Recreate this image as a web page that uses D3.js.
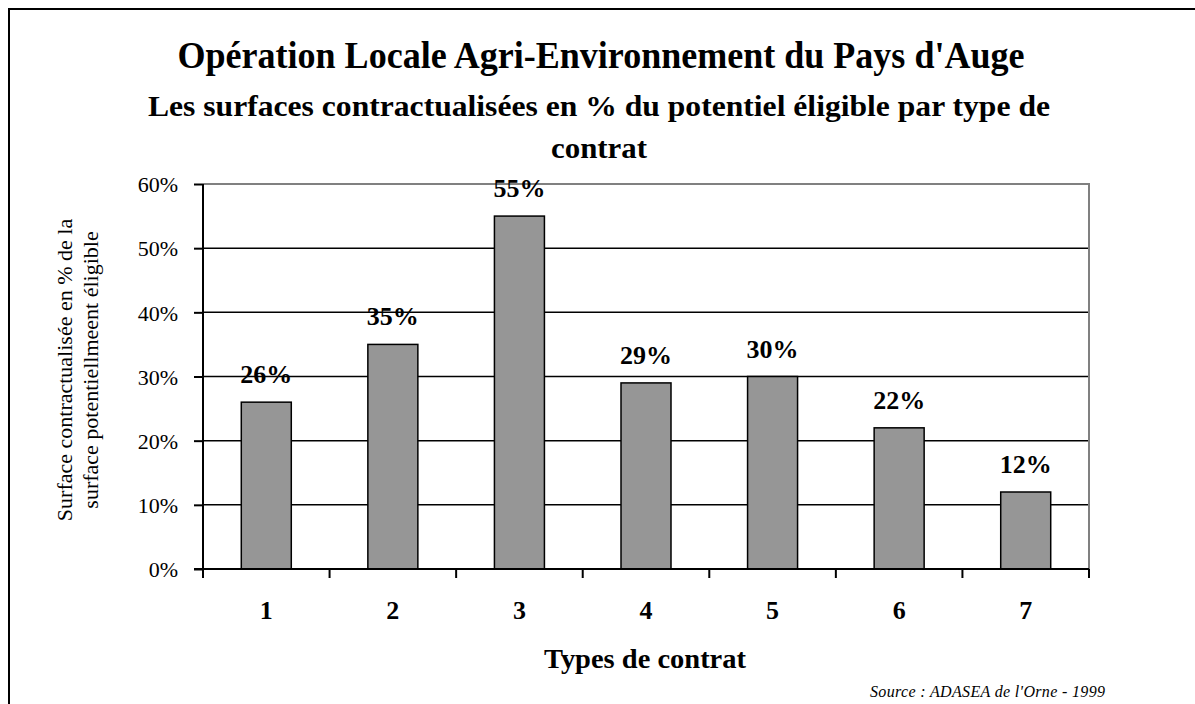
<!DOCTYPE html>
<html>
<head>
<meta charset="utf-8">
<script src="https://cdn.jsdelivr.net/npm/d3@7"></script>
<style>
  body { margin: 0; background: #fff; }
  svg { display: block; font-family: "Liberation Serif", "Times New Roman", serif; }
</style>
</head>
<body>
<svg id="chart"></svg>
<script>
const w = 1195;
const h = 704;

// data
const types = ["1", "2", "3", "4", "5", "6", "7"];
const values = [0.26, 0.35, 0.55, 0.29, 0.30, 0.22, 0.12];
const yTicks = [0, 0.1, 0.2, 0.3, 0.4, 0.5, 0.6];

const margin = { left: 203, right: 1089, top: 184, bottom: 569 };

const svg = d3.select("#chart").attr("width", w).attr("height", h);

// outer frame (runs off the right / bottom edge)
svg.append("rect")
  .attr("x", 9).attr("y", 9)
  .attr("width", w + 20).attr("height", h + 20)
  .attr("fill", "none").attr("stroke", "#000").attr("stroke-width", 2);

// titles
svg.append("text").attr("x", 601).attr("y", 68)
  .attr("text-anchor", "middle").attr("font-weight", "bold").attr("font-size", 38)
  .attr("textLength", 847).attr("lengthAdjust", "spacingAndGlyphs")
  .text("Opération Locale Agri-Environnement du Pays d'Auge");
svg.append("text").attr("x", 599).attr("y", 116)
  .attr("text-anchor", "middle").attr("font-weight", "bold").attr("font-size", 30)
  .attr("textLength", 902).attr("lengthAdjust", "spacingAndGlyphs")
  .text("Les surfaces contractualisées en % du potentiel éligible par type de");
svg.append("text").attr("x", 599).attr("y", 158)
  .attr("text-anchor", "middle").attr("font-weight", "bold").attr("font-size", 30)
  .attr("textLength", 96).attr("lengthAdjust", "spacingAndGlyphs")
  .text("contrat");

const x = d3.scaleBand().domain(types).range([margin.left, margin.right]).paddingInner(0).paddingOuter(0);
const y = d3.scaleLinear().domain([0, 0.6]).range([margin.bottom, margin.top]);

// gridlines
svg.append("g").selectAll("line").data(yTicks.filter(d => d > 0 && d < 0.6)).enter().append("line")
  .attr("x1", margin.left).attr("x2", margin.right)
  .attr("y1", d => y(d)).attr("y2", d => y(d))
  .attr("stroke", "#000").attr("stroke-width", 1.5);

// plot frame top/right in grey
svg.append("path")
  .attr("d", `M${margin.left},${y(0.6)}H${margin.right}V${margin.bottom}`)
  .attr("fill", "none").attr("stroke", "#808080").attr("stroke-width", 2);

// bars
const barW = 50;
svg.append("g").selectAll("rect").data(values).enter().append("rect")
  .attr("x", (d, i) => x(types[i]) + x.bandwidth() / 2 - barW / 2)
  .attr("y", d => y(d))
  .attr("width", barW)
  .attr("height", d => y(0) - y(d))
  .attr("fill", "#969696").attr("stroke", "#000").attr("stroke-width", 1.5);

// value labels
svg.append("g").selectAll("text").data(values).enter().append("text")
  .attr("x", (d, i) => x(types[i]) + x.bandwidth() / 2)
  .attr("y", d => y(d) - 19)
  .attr("text-anchor", "middle").attr("font-weight", "bold").attr("font-size", 26)
  .text(d => Math.round(d * 100) + "%");

// y axis
const yAxis = d3.axisLeft(y).tickValues(yTicks).tickFormat(d3.format(".0%")).tickSize(9).tickPadding(16);
const gy = svg.append("g").attr("transform", `translate(${margin.left},0)`).call(yAxis);
gy.select(".domain").attr("stroke", "#000").attr("stroke-width", 2).attr("d", `M0,${y(0.6)}V${y(0)}`);
gy.selectAll(".tick line").attr("stroke-width", 2);
gy.selectAll(".tick text").attr("font-family", "Liberation Serif").attr("font-size", 22).attr("fill", "#000").attr("dy", "0.35em");

// x axis: ticks at category boundaries
const gx = svg.append("g").attr("transform", `translate(0,${margin.bottom})`);
gx.append("line").attr("x1", margin.left - 9).attr("x2", margin.right)
  .attr("stroke", "#000").attr("stroke-width", 2);
gx.selectAll(".bound").data(types.concat(["end"])).enter().append("line")
  .attr("class", "bound")
  .attr("x1", (d, i) => i < types.length ? x(d) : x.range()[1])
  .attr("x2", (d, i) => i < types.length ? x(d) : x.range()[1])
  .attr("y1", 0).attr("y2", 9)
  .attr("stroke", "#000").attr("stroke-width", 2);
gx.selectAll(".lbl").data(types).enter().append("text")
  .attr("x", d => x(d) + x.bandwidth() / 2)
  .attr("y", 50)
  .attr("text-anchor", "middle").attr("font-weight", "bold").attr("font-size", 26)
  .text(d => d);

// axis titles
svg.append("text").attr("x", 645).attr("y", 668)
  .attr("text-anchor", "middle").attr("font-weight", "bold").attr("font-size", 28)
  .attr("textLength", 202).attr("lengthAdjust", "spacingAndGlyphs")
  .text("Types de contrat");

const yt = svg.append("text").attr("transform", "translate(0,370) rotate(-90)")
  .attr("text-anchor", "middle").attr("font-size", 22);
yt.append("tspan").attr("x", 0).attr("y", 72).text("Surface contractualisée en % de la");
yt.append("tspan").attr("x", 0).attr("y", 98).text("surface potentiellmeent éligible");

svg.append("text").attr("x", 1105).attr("y", 697)
  .attr("text-anchor", "end").attr("font-style", "italic").attr("font-size", 16)
  .attr("textLength", 235).attr("lengthAdjust", "spacing")
  .text("Source : ADASEA de l'Orne - 1999");
</script>
</body>
</html>
